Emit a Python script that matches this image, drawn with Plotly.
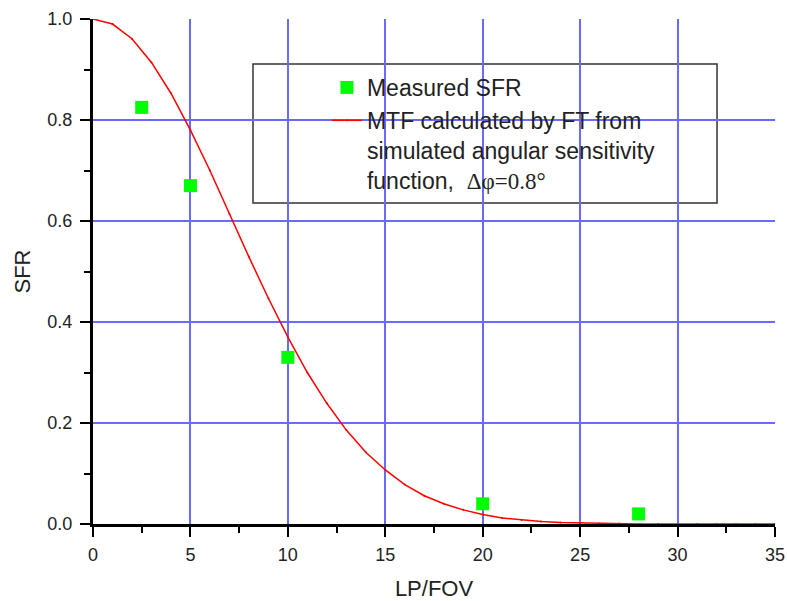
import plotly.graph_objects as go

# Measured SFR
meas_x = [2.5, 5, 10, 20, 28]
meas_y = [0.825, 0.67, 0.33, 0.04, 0.02]

# MTF curve
mtf_x = list(range(0, 36))
mtf_y = [1.000, 0.990, 0.961, 0.914, 0.853, 0.780, 0.700, 0.614, 0.529, 0.447,
         0.370, 0.300, 0.239, 0.186, 0.142, 0.107, 0.078, 0.056, 0.040, 0.028,
         0.019, 0.012, 0.008, 0.005, 0.003, 0.002, 0.001, 0.001, 0.0, 0.0,
         0.0, 0.0, 0.0, 0.0, 0.0, 0.0]

x_ticks = [0, 5, 10, 15, 20, 25, 30, 35]
y_ticks = [0.0, 0.2, 0.4, 0.6, 0.8, 1.0]
# gridlines only at interior ticks (none on the frame edges)
x_grid = x_ticks[1:-1]
y_grid = y_ticks[1:-1]

FONT = "Liberation Sans, Arial, sans-serif"
TXT = "#222222"
GRID = "#6a6aff"

fig = go.Figure()
# invisible helper trace so the grid-only overlay axes get drawn
fig.add_trace(go.Scatter(
    x=meas_x, y=meas_y, xaxis="x2", yaxis="y2", mode="markers",
    marker=dict(opacity=0), showlegend=False, hoverinfo="skip",
))
fig.add_trace(go.Scatter(
    x=meas_x, y=meas_y, mode="markers", name="Measured SFR",
    marker=dict(symbol="square", size=13, color="#00ff00", line=dict(width=0)),
))
fig.add_trace(go.Scatter(
    x=mtf_x, y=mtf_y, mode="lines+markers",
    name=("MTF calculated by FT from<br>simulated angular sensitivity<br>"
          "function,  <span style=\"font-family:'Liberation Serif'\">Δφ=0.8°</span>"),
    line=dict(color="#ff0000", width=1.5),
    marker=dict(size=2, color="#ff0000"),
))

axis_common = dict(
    showline=True, linecolor="black", linewidth=3,
    ticks="outside", ticklen=10, tickwidth=2, tickcolor="black",
    showgrid=False, zeroline=False, automargin=False,
    tickfont=dict(family=FONT, size=18, color=TXT),
)
grid_common = dict(
    showgrid=True, gridcolor=GRID, gridwidth=2, showline=False,
    ticks="", showticklabels=False, zeroline=False, automargin=False,
)

fig.update_layout(
    xaxis=dict(
        range=[0, 35], tickvals=x_ticks, ticktext=[str(v) for v in x_ticks],
        minor=dict(ticks="outside", ticklen=6, tickwidth=2, tickcolor="black",
                   dtick=2.5, tick0=0, showgrid=False),
        ticklabelstandoff=2,
        title=dict(text="LP/FOV", font=dict(family=FONT, size=22, color=TXT), standoff=19),
        **axis_common,
    ),
    yaxis=dict(
        range=[0, 1.0], tickvals=y_ticks, ticktext=[f"{v:.1f}" for v in y_ticks],
        minor=dict(ticks="outside", ticklen=6, tickwidth=2, tickcolor="black",
                   dtick=0.1, tick0=0, showgrid=False),
        ticklabelstandoff=4,
        title=dict(text="SFR", font=dict(family=FONT, size=22, color=TXT), standoff=11),
        **axis_common,
    ),
    xaxis2=dict(overlaying="x", matches="x", range=[0, 35], tickvals=x_grid, **grid_common),
    yaxis2=dict(overlaying="y", matches="y", range=[0, 1.0], tickvals=y_grid, **grid_common),
)

fig.add_shape(type="rect", xref="paper", yref="paper",
              x0=0.2346, x1=0.915, y0=0.6356, y1=0.911,
              line=dict(color="#333", width=1.5), fillcolor="white", layer="below")

fig.update_layout(
    width=787, height=601,
    margin=dict(l=93, r=12, t=19, b=77),
    plot_bgcolor="white", paper_bgcolor="white",
    font=dict(family=FONT, color=TXT),
    legend=dict(
        x=0.343, y=0.907, xanchor="left", yanchor="top",
        bgcolor="rgba(0,0,0,0)", borderwidth=0,
        font=dict(family=FONT, size=23, color=TXT),
        valign="top",
    ),
)

fig.write_html("out.html")
